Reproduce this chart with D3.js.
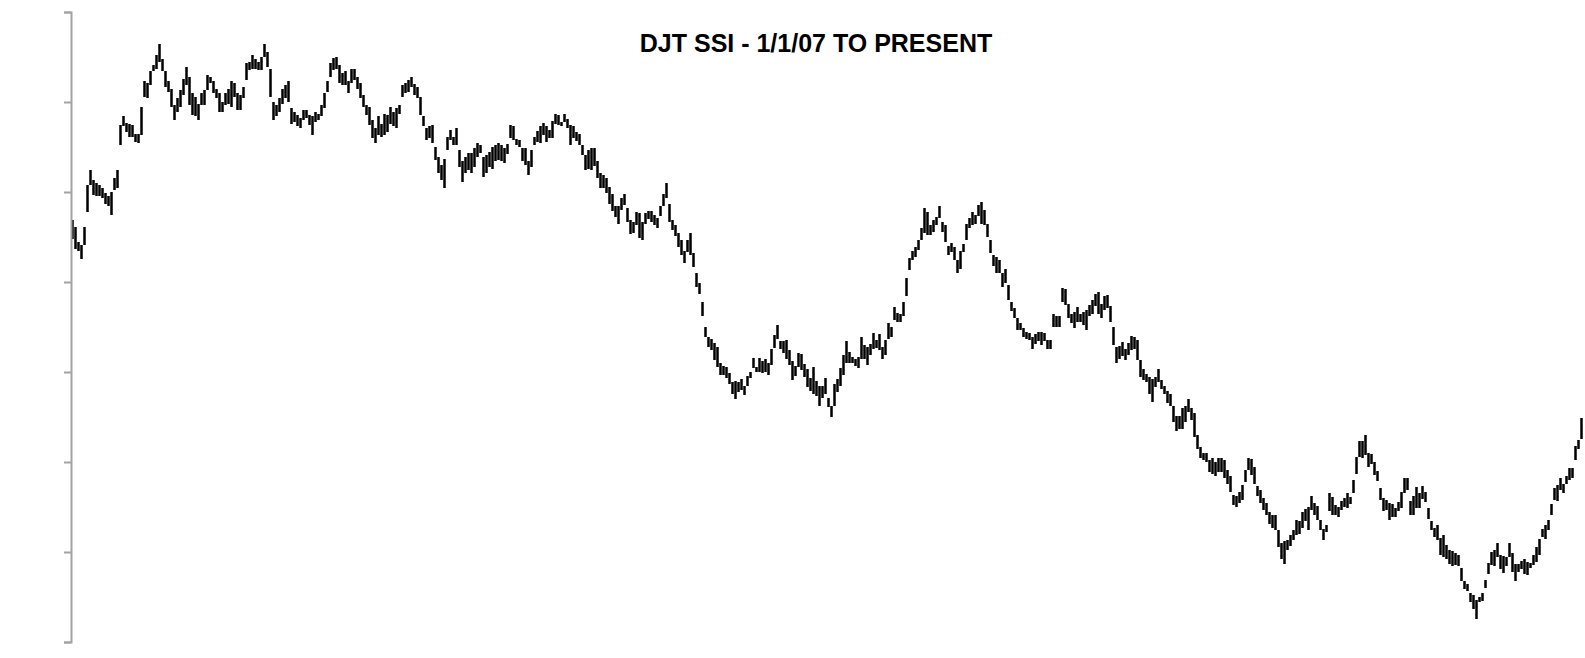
<!DOCTYPE html>
<html>
<head>
<meta charset="utf-8">
<script src="https://cdn.jsdelivr.net/npm/d3@7"></script>
<style>
  html, body { margin: 0; padding: 0; background: #fff; }
  svg { display: block; }
</style>
</head>
<body>
<svg id="chart" width="1585" height="658"></svg>
<script>
// ---- DATA (index units; weekly high/low bars) ----
const title = "DJT SSI - 1/1/07 TO PRESENT";
const yTicks = [0, 10, 20, 30, 40, 50, 60, 70];

const highs = [
  46.9,46.1,44.5,44.1,46.1,50.8,52.4,51.3,51.0,50.8, 50.4,49.9,49.5,50.0,51.5,52.4,57.4,58.4,57.7,57.6,
  57.4,56.5,56.5,59.5,62.3,62.1,63.5,64.1,65.2,66.5, 64.8,63.4,62.3,61.5,59.7,60.4,61.3,62.6,63.9,62.8,
  61.0,60.6,59.8,61.0,61.3,63.0,62.8,62.3,61.5,61.0, 60.0,61.0,61.5,62.3,62.1,61.0,60.8,61.7,64.3,64.5,
  65.2,64.8,64.5,65.0,66.5,65.6,63.7,60.0,59.7,60.4, 61.5,61.9,62.3,59.3,58.9,58.6,58.2,59.1,59.1,58.6,
  58.4,58.9,58.7,59.7,61.0,62.3,
  64.3,64.9,65.0,64.1,63.2,63.4,62.3,63.7,63.7,62.8, 62.1,60.8,59.7,59.5,58.0,57.1,58.4,57.6,58.7,58.6,
  59.5,58.9,59.3,59.7,61.9,62.1,62.4,62.8,62.0,61.7, 60.6,58.4,57.1,57.3,57.4,55.0,53.9,53.0,53.7,56.1,
  56.9,56.1,57.1,54.7,53.4,53.9,54.3,54.3,54.9,55.4, 55.2,53.9,54.1,54.5,55.0,55.2,55.4,55.2,54.9,55.3,
  57.4,57.3,55.9,55.8,54.9,54.9,53.4,54.7,56.1,56.8, 57.3,57.7,57.3,56.9,57.9,58.7,58.5,57.8,58.7,58.1,
  57.4,57.3,56.7,56.5,
  55.2,54.1,54.7,54.9,54.9,53.4,52.1,51.9,51.5,50.6, 49.8,48.4,48.4,49.3,49.8,48.2,46.9,46.7,47.8,47.7,
  46.7,47.7,47.9,47.9,47.4,47.1,48.4,49.8,51.0,48.7, 46.9,46.3,45.4,44.7,43.4,44.7,45.4,43.2,41.0,39.9,
  37.8,35.0,33.9,33.7,33.2,32.8,31.0,30.7,30.6,29.9, 28.9,29.0,28.9,29.2,28.4,29.6,30.0,31.6,30.6,31.6,
  31.2,31.4,31.0,32.6,34.1,35.2,33.4,33.4,33.5,32.4, 31.2,30.7,32.1,32.0,30.9,30.3,29.3,30.6,29.0,28.4,
  28.4,29.3,27.1,
  26.2,28.7,29.2,30.4,31.9,33.4,32.2,31.7,31.5,31.7, 33.9,33.0,32.8,33.1,34.3,33.6,34.2,32.8,33.6,35.4,
  35.0,37.2,36.6,36.5,37.8,40.4,42.7,43.5,43.9,44.7, 46.0,48.2,47.8,46.3,46.9,47.2,48.4,46.7,46.3,44.0,
  44.3,43.9,42.4,43.4,44.2,46.5,47.1,47.8,47.4,48.6, 48.9,48.0,46.5,44.7,43.0,42.8,42.4,41.0,41.4,39.7,
  37.8,37.1,36.0,35.5,34.9,34.5,34.3,33.9,34.2,34.5, 34.4,34.3,33.6,33.6,36.4,36.2,36.2,39.3,39.2,37.6,
  36.4,36.7,37.2,
  36.5,36.7,36.9,37.4,38.0,38.7,38.9,37.6,38.4,38.6, 37.3,35.0,32.8,32.9,33.3,32.6,33.2,34.0,33.9,33.6,
  31.3,30.3,29.8,29.4,29.2,29.4,30.3,29.1,28.4,27.9, 27.6,26.2,25.1,25.1,26.0,26.2,27.0,26.0,25.4,23.0,
  21.7,21.0,21.0,20.2,20.4,20.0,20.5,20.4,20.2,19.1, 18.4,16.3,16.2,16.7,17.4,19.1,20.4,20.3,19.5,17.3,
  16.9,16.0,15.5,14.4,14.1,14.1,12.4,11.0,11.2,11.3, 11.9,12.5,13.6,13.5,14.4,14.8,15.0,16.2,15.5,15.1,
  13.6,12.6,13.0,16.5,
  16.1,15.2,15.0,15.7,16.0,16.5,16.1,18.0,20.6,22.3, 22.3,23.0,21.0,20.9,20.0,19.0,17.1,16.0,15.8,15.4,
  15.3,14.9,15.6,16.7,18.2,18.2,15.7,16.2,17.2,16.6, 17.3,16.7,14.9,13.5,12.7,13.0,11.6,11.9,10.8,10.2,
  10.1,9.9,9.7,8.2,6.8,6.4,5.5,5.2,4.7,5.0, 5.4,6.9,8.8,10.0,10.2,11.0,9.7,9.6,9.5,11.0,
  9.9,8.7,8.7,9.0,9.2,8.9,8.8,9.7,10.6,11.5, 12.6,13.0,13.6,15.3,17.1,17.4,18.2,17.6,18.4,19.3,
  19.3,21.8,22.4,24.9
];

const lows = [
  44.8,43.7,43.4,42.6,44.1,47.8,50.8,49.7,49.5,49.5, 49.3,48.7,48.4,47.4,50.2,50.4,55.2,57.3,56.7,56.1,
  56.1,55.6,55.4,56.3,60.6,60.4,61.9,63.4,63.7,64.5, 63.4,61.7,61.1,59.5,58.0,58.9,59.5,60.8,61.9,59.7,
  58.6,58.4,58.0,59.7,59.7,61.3,62.1,61.0,60.4,58.9, 58.9,59.7,59.8,59.5,60.6,59.1,59.1,60.4,62.4,63.6,
  63.7,63.7,63.6,63.6,65.0,63.9,60.6,58.0,58.4,58.9, 59.8,60.4,60.0,57.6,57.8,57.3,57.1,58.0,58.2,57.4,
  56.3,57.8,58.0,58.4,59.3,61.1,
  62.8,63.6,63.7,62.1,61.9,61.9,61.0,62.1,62.4,61.5, 60.4,59.5,58.6,57.4,56.0,55.4,56.3,56.1,56.3,56.7,
  57.6,57.3,57.1,58.7,60.6,61.0,61.1,61.7,60.8,60.4, 58.6,57.3,55.8,56.0,55.4,53.6,52.1,51.3,50.4,54.7,
  55.8,55.2,55.2,52.8,51.1,52.1,52.4,52.1,52.8,53.9, 54.3,51.7,52.1,52.8,52.6,53.4,53.6,53.4,53.2,54.2,
  56.0,55.8,55.2,55.0,53.4,53.0,51.9,52.8,55.2,55.6, 55.4,56.3,55.6,56.0,56.0,57.6,57.4,57.3,57.8,57.1,
  55.2,56.0,55.7,55.2,
  54.1,52.4,52.6,52.4,52.9,51.6,50.5,50.4,49.9,48.7, 47.9,47.2,46.5,48.0,48.6,46.7,45.3,45.5,46.3,44.9,
  44.7,46.4,47.0,46.7,46.3,46.0,47.3,48.4,49.3,46.7, 45.8,45.1,43.9,43.0,42.1,43.3,43.0,41.7,39.5,38.7,
  36.2,33.9,32.8,32.5,31.3,30.6,29.7,29.7,29.3,28.7, 27.6,27.0,27.8,28.0,27.4,28.4,29.3,30.4,30.0,30.0,
  29.9,30.0,29.7,30.8,32.7,33.7,32.6,32.1,31.5,30.8, 29.1,29.6,30.6,30.2,29.4,28.3,27.9,27.6,27.3,26.2,
  27.1,27.6,26.1,
  25.0,26.2,27.8,28.4,29.7,31.0,31.0,31.0,30.7,30.4, 31.5,31.5,30.8,31.9,32.6,32.7,32.4,31.5,31.9,33.7,
  33.9,35.8,35.6,35.6,36.2,38.4,41.3,42.4,42.8,43.6, 44.7,45.4,45.2,45.2,45.6,46.3,47.1,45.6,44.4,43.0,
  43.3,42.4,41.0,41.5,43.3,44.7,46.0,46.3,46.5,47.3, 46.5,46.3,45.0,43.2,41.8,41.0,41.0,39.5,39.9,38.0,
  36.8,36.0,34.7,34.7,33.9,33.7,33.6,32.6,33.1,33.4, 33.0,33.4,32.6,32.6,35.0,35.0,35.0,37.8,37.4,36.0,
  35.5,34.9,35.6,
  35.6,35.2,34.7,36.2,36.5,37.3,36.5,36.0,36.9,37.1, 35.6,33.0,31.0,31.5,31.8,31.3,31.9,32.4,32.6,31.3,
  29.5,29.1,28.9,27.6,26.7,28.3,28.9,28.1,27.6,26.6, 26.2,24.5,23.4,23.7,23.7,24.5,25.6,24.7,22.8,21.5,
  20.5,20.2,20.0,18.9,18.7,18.4,18.9,18.9,18.2,17.6, 16.7,15.2,15.0,15.4,15.8,17.8,19.1,18.6,17.6,16.2,
  15.4,14.7,14.1,13.1,12.7,12.4,10.6,9.2,8.7,10.2, 10.7,11.3,11.9,12.0,12.7,13.5,12.4,14.7,14.1,13.6,
  12.4,11.3,12.2,14.5,
  14.1,14.1,13.9,14.7,15.0,14.9,15.3,16.5,18.7,20.6, 20.4,20.8,19.5,19.8,18.6,17.9,15.8,14.5,14.7,13.6,
  13.9,13.9,14.5,14.9,16.5,16.9,14.1,14.1,14.9,14.9, 15.9,15.6,13.7,12.4,11.7,11.3,9.7,9.5,9.2,8.7,
  8.4,8.6,8.4,6.8,5.9,5.7,4.4,3.7,2.6,4.4, 4.6,6.0,7.6,8.6,8.4,9.4,8.1,7.7,8.4,9.4,
  7.8,6.8,7.8,8.1,7.6,7.5,8.2,8.6,8.9,9.7, 11.7,11.5,12.5,14.1,15.8,15.7,16.9,16.6,17.6,18.0,
  18.2,20.2,21.5,22.6
];

// ---- CHART ----
const svg = d3.select("#chart");
const axisX = 71;
const n = highs.length;

const x = d3.scaleLinear().domain([0, n - 1]).range([72.5, 1581.5]);
const y = d3.scaleLinear().domain([0, 70]).range([642, 12]);

const bars = d3.range(n).map(i => ({ i, hi: highs[i], lo: lows[i] }));

const barW = 2.5;
svg.append("g")
  .selectAll("rect")
  .data(bars)
  .join("rect")
  .attr("x", d => x(d.i) - barW / 2)
  .attr("width", barW)
  .attr("y", d => Math.round(y(d.hi)))
  .attr("height", d => Math.max(2, Math.round(y(d.lo)) - Math.round(y(d.hi))))
  .attr("fill", "#000");

const axis = d3.axisLeft(y)
  .tickValues(yTicks)
  .tickSize(7)
  .tickSizeOuter(7)
  .tickFormat("");

const gAxis = svg.append("g")
  .attr("transform", `translate(${axisX},0)`)
  .call(axis);
gAxis.select(".domain").attr("stroke", "#a3a3a3").attr("stroke-width", 2);
gAxis.selectAll(".tick line").attr("stroke", "#a3a3a3").attr("stroke-width", 2);

svg.append("text")
  .attr("x", 816)
  .attr("y", 52)
  .attr("text-anchor", "middle")
  .attr("font-family", "Liberation Sans, Arial, Helvetica, sans-serif")
  .attr("font-weight", "bold")
  .attr("font-size", 25)
  .attr("fill", "#000")
  .text(title);
</script>
</body>
</html>
